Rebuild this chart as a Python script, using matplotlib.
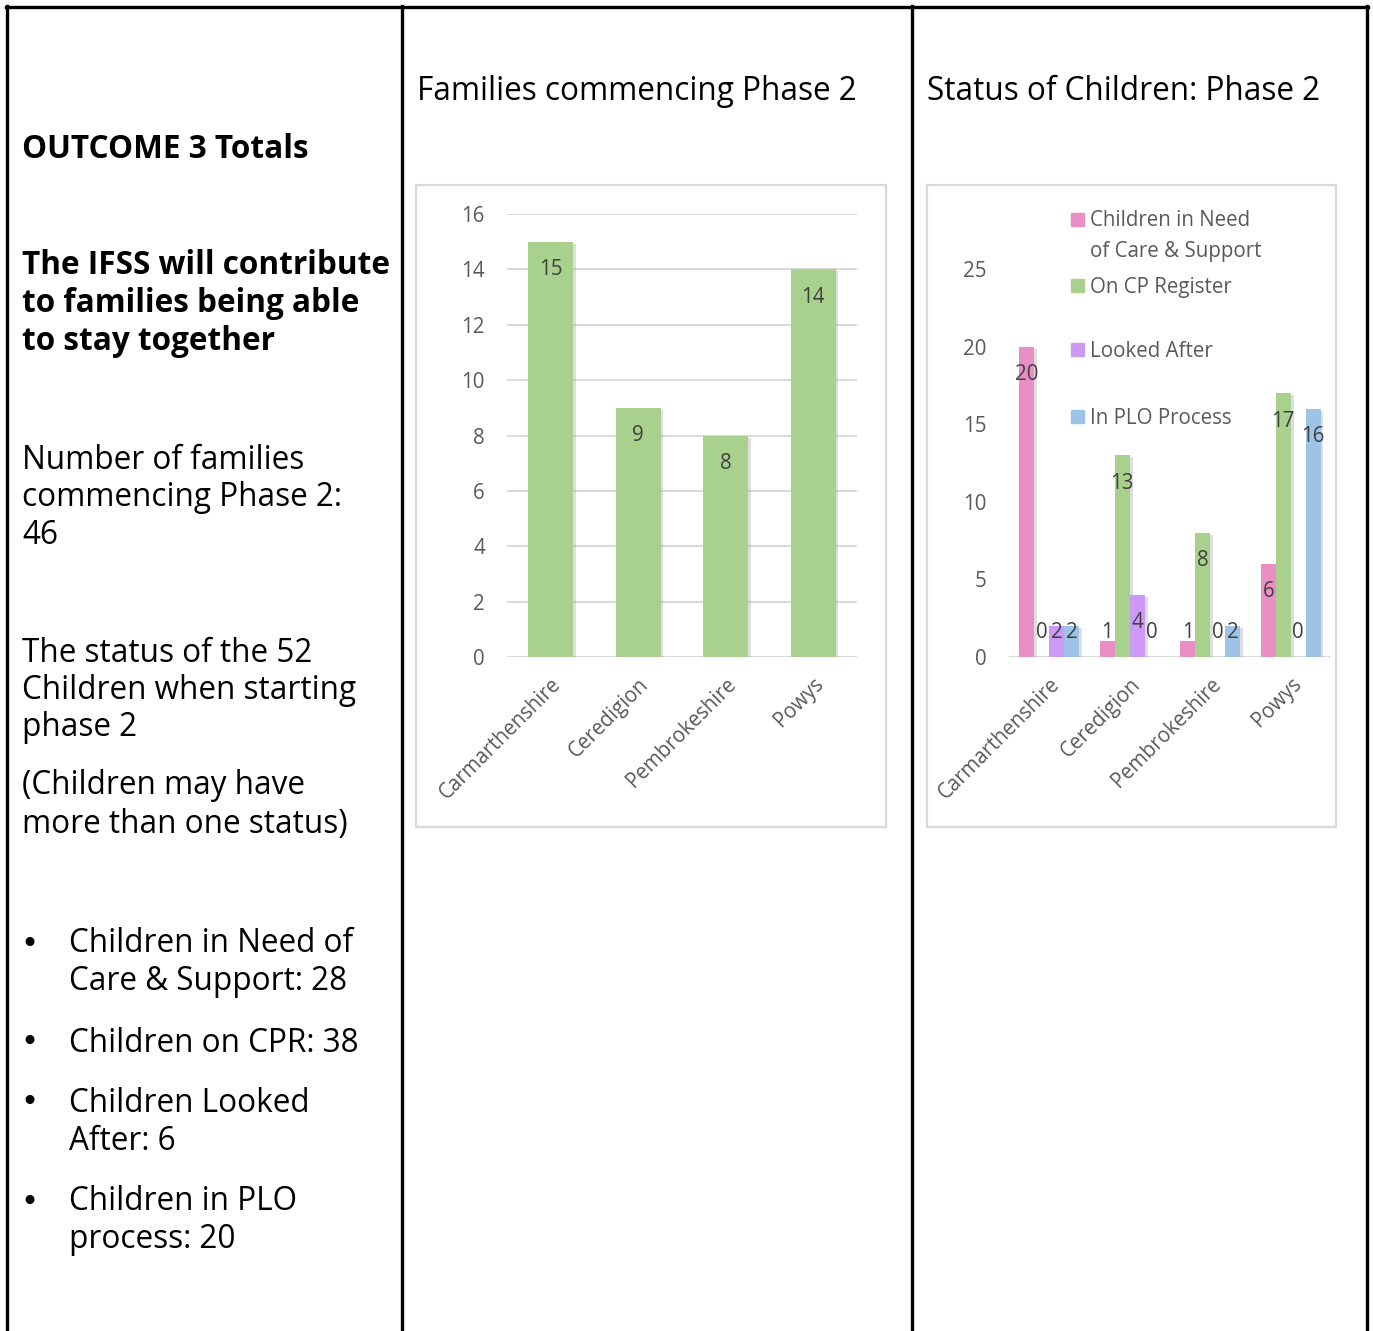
import matplotlib
matplotlib.use("Agg")
import matplotlib.pyplot as plt
from matplotlib.patches import Rectangle
import matplotlib.patheffects as pe
from matplotlib.lines import Line2D

# ---- data ----
counties = ["Carmarthenshire", "Ceredigion", "Pembrokeshire", "Powys"]
families_phase2 = [15, 9, 8, 14]

status_labels = ["Children in Need\nof Care & Support", "On CP Register",
                 "Looked After", "In PLO Process"]
children_in_need = [20, 1, 1, 6]
on_cp_register = [0, 13, 8, 17]
looked_after = [2, 4, 0, 0]
in_plo_process = [2, 0, 2, 16]

fam_ticks = [0, 2, 4, 6, 8, 10, 12, 14, 16]
status_ticks = [0, 5, 10, 15, 20, 25]

# ---- styling ----
W, H = 1373, 1331
GREEN = "#A9D18E"
PINK = "#EA8EC6"
PURPLE = "#CC99F7"
BLUE = "#9DC3E6"
TICK_C = "#595959"
LABEL_C = "#404040"
GRID_C = "#D9D9D9"
CHART_FONT = "Open Sans"
PANEL_FONT = "Open Sans"
CHART_SIZE = 14.8
PANEL_SIZE = 22.7
TEXT_DY = 3  # vertical nudge for panel text lines (px)

fig = plt.figure(figsize=(W / 100, H / 100), dpi=100)


def fx(x):
    return x / W


def fy(y):
    return 1 - y / H


def axes_px(x0, y0, x1, y1):
    return fig.add_axes([fx(x0), fy(y1), (x1 - x0) / W, (y1 - y0) / H])


# ---- table frame ----
for x in (7, 402, 912, 1367):
    fig.add_artist(Line2D([fx(x), fx(x)], [fy(6), 0], color="black", lw=2.4,
                          transform=fig.transFigure))
fig.add_artist(Line2D([fx(5.8), fx(1368.2)], [fy(7), fy(7)], color="black", lw=2.4,
                      transform=fig.transFigure))

# ---- left text panel ----
def ptext(x, y, s, weight="normal", size=PANEL_SIZE):
    fig.text(fx(x), fy(y + TEXT_DY), s, fontsize=size, fontweight=weight,
             family=PANEL_FONT, ha="left", va="center", color="black")

ptext(22, 146, "OUTCOME 3 Totals", weight="bold")
for i, line in enumerate(["The IFSS will contribute", "to families being able",
                          "to stay together"]):
    ptext(22, 263 + 38 * i, line, weight="bold")
for i, line in enumerate(["Number of families", "commencing Phase 2:", "46"]):
    ptext(22, 457 + 37.5 * i, line)
for i, line in enumerate(["The status of the 52", "Children when starting", "phase 2"]):
    ptext(22, 650 + 37.5 * i, line)
for i, line in enumerate(["(Children may have", "more than one status)"]):
    ptext(22, 783 + 38 * i, line)

bullets = [["Children in Need of", "Care & Support: 28"],
           ["Children on CPR: 38"],
           ["Children Looked", "After: 6"],
           ["Children in PLO", "process: 20"]]
bullet_y = [941, 1040, 1100, 1199]
for lines, y0 in zip(bullets, bullet_y):
    fig.text(fx(29), fy(y0 + 3), "\u2022", fontsize=22, family="DejaVu Sans",
             ha="center", va="center")
    for i, line in enumerate(lines):
        ptext(69, y0 + 38 * i, line)

# ---- chart titles ----
ptext(417, 88, "Families commencing Phase 2")
ptext(927, 88, "Status of Children: Phase 2")

# ---- chart frames ----
for (x0, y0, x1, y1) in [(416, 185, 886, 827), (927, 185, 1336, 827)]:
    fig.add_artist(Rectangle((fx(x0), fy(y1)), (x1 - x0) / W, (y1 - y0) / H,
                             transform=fig.transFigure, fill=False,
                             edgecolor=GRID_C, lw=1.6))

shadow = [pe.SimplePatchShadow(offset=(2, -1.5), shadow_rgbFace="#7f7f7f", alpha=0.25),
          pe.Normal()]


def style_axes(ax, ticks):
    for s in ax.spines.values():
        s.set_visible(False)
    ax.set_yticks(ticks)
    ax.set_xticks(range(len(counties)))
    ax.set_xticklabels(counties, rotation=45, ha="right", va="top",
                       rotation_mode="anchor", family=CHART_FONT,
                       fontsize=CHART_SIZE, color=TICK_C)
    ax.tick_params(axis="both", length=0, labelsize=CHART_SIZE, labelcolor=TICK_C)
    ax.tick_params(axis="y", pad=16)
    ax.tick_params(axis="x", pad=12)
    for t in ax.get_yticklabels():
        t.set_family(CHART_FONT)
    ax.set_facecolor("none")


# ---- chart 1: families commencing phase 2 ----
ax1 = axes_px(507, 214, 857, 657)
ax1.set_xlim(-0.5, 3.5)
ax1.set_ylim(0, 16)
ax1.grid(axis="y", color=GRID_C, lw=1.4)
ax1.set_axisbelow(True)
bars = ax1.bar(range(len(counties)), families_phase2, width=0.51, color=GREEN, zorder=3)
for b in bars:
    b.set_path_effects(shadow)
for i, v in enumerate(families_phase2):
    ax1.annotate(str(v), (i, v), xytext=(0, -28), textcoords="offset pixels",
                 ha="center", va="center", fontsize=CHART_SIZE, family=CHART_FONT,
                 color=LABEL_C, zorder=5)
style_axes(ax1, fam_ticks)

# ---- chart 2: status of children ----
ax2 = axes_px(1009, 269, 1331, 657)
ax2.set_xlim(-0.5, 3.5)
ax2.set_ylim(0, 25)
ax2.axhline(0, color=GRID_C, lw=1.6, zorder=2)
series = [children_in_need, on_cp_register, looked_after, in_plo_process]
colors = [PINK, GREEN, PURPLE, BLUE]
bw = 0.186
px_per_unit = (657 - 269) / 25
for k, (vals, c) in enumerate(zip(series, colors)):
    xs = [i + (k - 1.5) * bw for i in range(len(counties))]
    bs = ax2.bar(xs, vals, width=bw, color=c, zorder=3)
    for b in bs:
        b.set_path_effects(shadow)
    for x, v in zip(xs, vals):
        y_lab = max(v - 28 / px_per_unit, 25 / px_per_unit)
        ax2.text(x, y_lab, str(v), ha="center", va="center", fontsize=CHART_SIZE,
                 family=CHART_FONT, color=LABEL_C, zorder=5, clip_on=False)
style_axes(ax2, status_ticks)

# legend drawn inside the chart frame
legend_rows = [(219, status_labels[0], PINK), (285, status_labels[1], GREEN),
               (349, status_labels[2], PURPLE), (416, status_labels[3], BLUE)]
for y, lab, c in legend_rows:
    fig.add_artist(Rectangle((fx(1071), fy(y + 7)), 13 / W, 13 / H,
                             transform=fig.transFigure, color=c))
    for j, part in enumerate(lab.split("\n")):
        fig.text(fx(1090), fy(y + 2 + 30 * j), part, fontsize=CHART_SIZE,
                 family=CHART_FONT, color=TICK_C, ha="left", va="center")

fig.savefig("out.png", dpi=100, facecolor="white")
